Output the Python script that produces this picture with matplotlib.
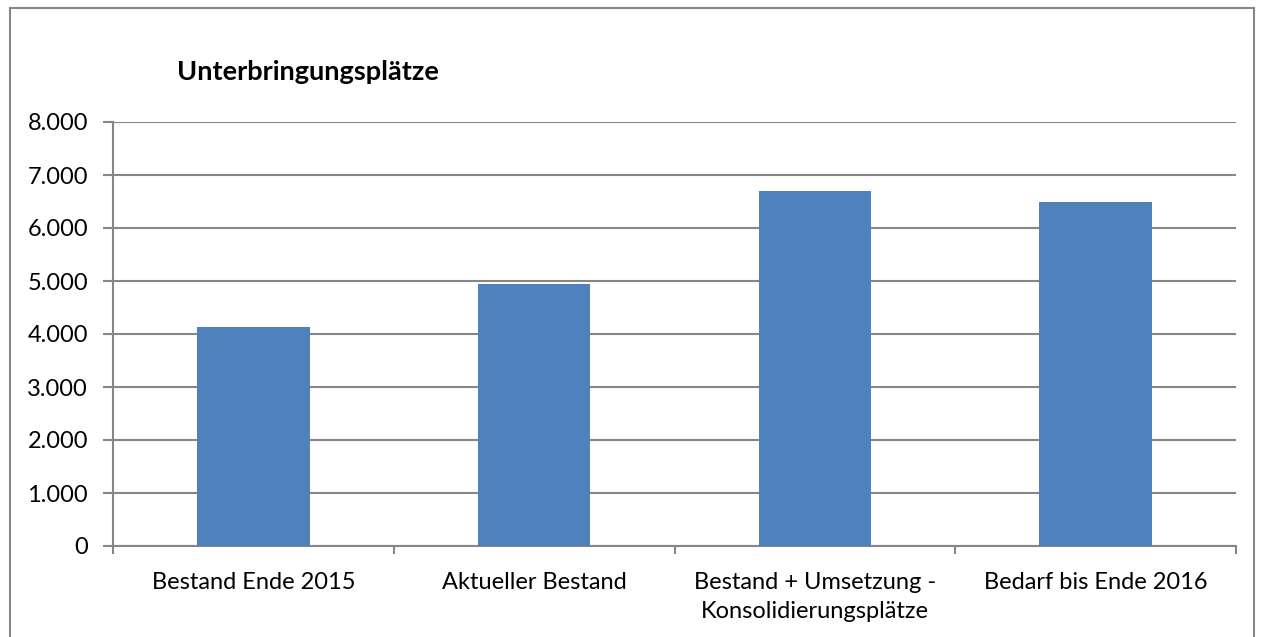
import matplotlib.pyplot as plt
import matplotlib as mpl
from matplotlib.patches import Rectangle
from matplotlib.ticker import FuncFormatter

mpl.rcParams['font.family'] = ['Lato', 'DejaVu Sans']

categories = ['Bestand Ende 2015', 'Aktueller Bestand',
              'Bestand + Umsetzung -\nKonsolidierungsplätze', 'Bedarf bis Ende 2016']
values = [4140, 4950, 6700, 6500]
yticks = [0, 1000, 2000, 3000, 4000, 5000, 6000, 7000, 8000]
title = 'Unterbringungsplätze'

grid_c = '#868686'
bar_c = '#4F81BD'

fig = plt.figure(figsize=(12.64, 6.37), dpi=100)
W, H = 1264, 637
ax = fig.add_axes([113 / W, 1 - 546 / H, (1236 - 113) / W, (546 - 122) / H])

# outer chart frame
fig.patches.append(Rectangle((10 / W, -0.01), (1254 - 10) / W, (637 - 8) / H + 0.01,
                             transform=fig.transFigure, fill=False,
                             edgecolor=grid_c, linewidth=1.5))

x = range(len(categories))
ax.bar(x, values, width=0.4, color=bar_c, zorder=3)

ax.set_xlim(-0.5, len(categories) - 0.5)
ax.set_ylim(0, 8000)
ax.set_yticks(yticks)
ax.yaxis.set_major_formatter(FuncFormatter(lambda v, p: f'{int(v):,}'.replace(',', '.')))
ax.grid(axis='y', color=grid_c, linewidth=1.5, zorder=0)

ax.set_xticks([i - 0.5 for i in range(len(categories) + 1)])
ax.set_xticklabels([])
ax.set_xticks(list(x), minor=True)
ax.set_xticklabels(categories, minor=True, linespacing=1.45)
ax.tick_params(axis='x', which='major', direction='out', length=6, color=grid_c, width=1.5)
ax.tick_params(axis='x', which='minor', length=0, pad=19, labelsize=17)
ax.tick_params(axis='y', direction='out', length=7, color=grid_c, width=1.5, pad=11, labelsize=17)

for s in ['top', 'right']:
    ax.spines[s].set_visible(False)
for s in ['left', 'bottom']:
    ax.spines[s].set_color(grid_c)
    ax.spines[s].set_linewidth(1.5)

fig.text(177 / W, 1 - 72 / H, title, fontsize=19.5, fontweight='bold', va='center', ha='left')

fig.savefig('out.png', dpi=100)
